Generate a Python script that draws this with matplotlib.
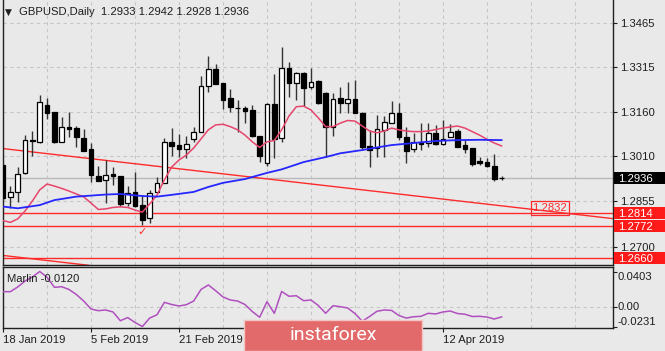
import numpy as np
import matplotlib
matplotlib.use('Agg')
import matplotlib.pyplot as plt
import matplotlib.transforms as mtransforms
from matplotlib.patches import Rectangle

plt.rcParams['font.family'] = ['Liberation Sans', 'DejaVu Sans']

# GBPUSD daily bars, 18 Jan 2019 .. 24 Apr 2019
opens = [1.2979, 1.2871, 1.2888, 1.2951, 1.3062, 1.3059, 1.3184, 1.3159, 1.3059, 1.3110,
         1.3104, 1.3070, 1.3033, 1.2942, 1.2928, 1.2948, 1.2942, 1.2850, 1.2888, 1.2842,
         1.2797, 1.2888, 1.2919, 1.3059, 1.3047, 1.3033, 1.3067, 1.3093, 1.3249, 1.3306,
         1.3258, 1.3207, 1.3173, 1.3175, 1.3166, 1.3078, 1.2985, 1.3187, 1.3070, 1.3311,
         1.3258, 1.3294, 1.3244, 1.3266, 1.3226, 1.3110, 1.3207, 1.3190, 1.3204, 1.3158,
         1.3044, 1.3036, 1.3099, 1.3124, 1.3156, 1.3076, 1.3034, 1.3057, 1.3053, 1.3089,
         1.3051, 1.3076, 1.3096, 1.3047, 1.3036, 1.2993, 1.2990, 1.2976, 1.2933]
highs = [1.2986, 1.2908, 1.2973, 1.3081, 1.3095, 1.3218, 1.3207, 1.3161, 1.3142, 1.3159,
         1.3113, 1.3101, 1.3053, 1.2976, 1.2996, 1.2973, 1.2943, 1.2907, 1.2956, 1.2877,
         1.2894, 1.2939, 1.3070, 1.3106, 1.3084, 1.3078, 1.3110, 1.3284, 1.3351, 1.3323,
         1.3259, 1.3238, 1.3201, 1.3180, 1.3184, 1.3079, 1.3190, 1.3290, 1.3381, 1.3330,
         1.3297, 1.3296, 1.3311, 1.3269, 1.3229, 1.3224, 1.3246, 1.3261, 1.3269, 1.3159,
         1.3099, 1.3150, 1.3146, 1.3197, 1.3190, 1.3110, 1.3087, 1.3121, 1.3121, 1.3116,
         1.3133, 1.3118, 1.3101, 1.3064, 1.3037, 1.3007, 1.3002, 1.3017, 1.2942]
lows = [1.2859, 1.2831, 1.2854, 1.2949, 1.3010, 1.3055, 1.3135, 1.3055, 1.3057, 1.3076,
        1.3042, 1.3026, 1.2922, 1.2923, 1.2848, 1.2911, 1.2840, 1.2840, 1.2837, 1.2774,
        1.2782, 1.2886, 1.2917, 1.3010, 1.3007, 1.3002, 1.3059, 1.3091, 1.3229, 1.3254,
        1.3169, 1.3161, 1.3093, 1.3123, 1.3076, 1.2990, 1.2976, 1.3002, 1.3059, 1.3212,
        1.3201, 1.3180, 1.3237, 1.3187, 1.3005, 1.3078, 1.3158, 1.3158, 1.3156, 1.3033,
        1.2971, 1.3007, 1.3007, 1.3122, 1.3064, 1.2987, 1.3024, 1.3030, 1.3042, 1.3047,
        1.3047, 1.3074, 1.3040, 1.3019, 1.2976, 1.2979, 1.2973, 1.2925, 1.2928]
closes = [1.2866, 1.2886, 1.2948, 1.3064, 1.3063, 1.3195, 1.3156, 1.3059, 1.3110, 1.3101,
          1.3076, 1.3028, 1.2945, 1.2925, 1.2945, 1.2941, 1.2846, 1.2884, 1.2839, 1.2791,
          1.2885, 1.2917, 1.3057, 1.3044, 1.3035, 1.3050, 1.3091, 1.3249, 1.3306, 1.3256,
          1.3201, 1.3176, 1.3172, 1.3163, 1.3078, 1.3008, 1.3187, 1.3068, 1.3311, 1.3258,
          1.3292, 1.3241, 1.3263, 1.3192, 1.3110, 1.3204, 1.3190, 1.3204, 1.3158, 1.3039,
          1.3030, 1.3101, 1.3127, 1.3156, 1.3076, 1.3028, 1.3057, 1.3051, 1.3087, 1.3051,
          1.3067, 1.3093, 1.3042, 1.3034, 1.2982, 1.2987, 1.2976, 1.2930, 1.2936]

# fast moving average (pink), one value per bar
fast_ma = [1.2789, 1.2783, 1.2795, 1.2822, 1.2856, 1.2894, 1.2914, 1.2907, 1.2899, 1.2890,
           1.2880, 1.2870, 1.2849, 1.2827, 1.2829, 1.2834, 1.2836, 1.2834, 1.2825, 1.2818,
           1.2846, 1.2876, 1.2928, 1.2972, 1.2996, 1.3013, 1.3037, 1.3068, 1.3099, 1.3116,
           1.3118, 1.3110, 1.3099, 1.3081, 1.3058, 1.3039, 1.3058, 1.3063, 1.3099, 1.3146,
           1.3178, 1.3180, 1.3167, 1.3140, 1.3110, 1.3110, 1.3122, 1.3131, 1.3129, 1.3112,
           1.3095, 1.3089, 1.3095, 1.3105, 1.3099, 1.3095, 1.3093, 1.3093, 1.3095, 1.3100,
           1.3105, 1.3109, 1.3112, 1.3105, 1.3093, 1.3081, 1.3067, 1.3054, 1.3044]

# slow moving average (blue), read at a few bars
slow_bars = [0, 2, 5, 7, 10, 14, 16, 19, 21, 23, 26, 28, 30, 33, 36, 38, 41, 44, 46, 49,
             51, 53, 56, 59, 62, 65, 68]
slow_ma = [1.2837, 1.2831, 1.2842, 1.2859, 1.2871, 1.2878, 1.2880, 1.2873, 1.2871, 1.2877,
           1.2887, 1.2904, 1.2918, 1.2931, 1.2952, 1.2964, 1.2989, 1.3006, 1.3019, 1.3030,
           1.3039, 1.3047, 1.3054, 1.3061, 1.3064, 1.3065, 1.3064]

# Marlin oscillator
marlin = [0.0171, 0.0171, 0.0225, 0.0294, 0.0340, 0.0403, 0.0337, 0.0221, 0.0228, 0.0196,
          0.0138, 0.0063, -0.0029, -0.0048, -0.0040, -0.0063, -0.0164, -0.0127, -0.0184, -0.0231,
          -0.0133, -0.0095, 0.0048, 0.0023, 0.0006, 0.0021, 0.0063, 0.0196, 0.0248, 0.0182,
          0.0110, 0.0075, 0.0063, 0.0023, -0.0058, -0.0124, 0.0055, -0.0078, 0.0173, 0.0118,
          0.0124, 0.0067, 0.0075, 0.0012, -0.0078, 0.0009, -0.0002, -0.0017, -0.0081, -0.0170,
          -0.0115, -0.0055, -0.0040, -0.0045, -0.0104, -0.0133, -0.0118, -0.0113, -0.0078, -0.0086,
          -0.0063, -0.0052, -0.0081, -0.0089, -0.0115, -0.0113, -0.0121, -0.0144, -0.0120]

price_ticks = [1.3465, 1.3315, 1.3160, 1.3010, 1.2855, 1.2700]
levels = [1.2814, 1.2772, 1.2660]
trend_upper = [(0, 1.3035), (80, 1.2805)]
trend_lower = [(0, 1.2670), (80, 1.2440)]
trend_label = (74.6, 1.2832)
signal = (19, 1.2750)
# the 11 Mar / 27 Mar labels sit under the logo in the original, so only these show
date_ticks = [0, 12, 24, 60]
date_labels = ['18 Jan 2019', '5 Feb 2019', '21 Feb 2019', '12 Apr 2019']
marlin_ticks = [0.0403, 0.0, -0.0231]

BG = '#e9e9e9'
GRID = '#c6c6c6'
RED = '#ff2b2b'
TXT = '#1e1e1e'
FS = 8.1

W, H = 665, 351
fig = plt.figure(figsize=(W / 100, H / 100), dpi=100)
fig.patch.set_facecolor(BG)

ax = fig.add_axes([2.7 / W, 1 - 265.3 / H, 610.3 / W, 265.3 / H])
axm = fig.add_axes([2.7 / W, 1 - 328.3 / H, 610.3 / W, 61.3 / H])

for a in (ax, axm):
    a.set_facecolor(BG)
    a.set_xlim(-0.05, 83.2)
    for s in a.spines.values():
        s.set_color('#202020')
        s.set_linewidth(1)
    for g in range(6, 84, 6):
        a.axvline(g, color=GRID, lw=0.8, ls=(0, (3, 3)), zorder=0)

# ---- main price panel
ax.set_ylim(1.26364, 1.35425)
ax.spines['top'].set_visible(False)
ax.set_xticks([])
ax.yaxis.tick_right()
ax.set_yticks(price_ticks)
ax.set_yticklabels([f'{p:.4f}' for p in price_ticks])
ax.tick_params(axis='y', length=3, pad=2, labelsize=FS, colors=TXT)
for p in price_ticks:
    ax.axhline(p, color=GRID, lw=0.8, ls=(0, (3, 3)), zorder=0)

x = np.arange(len(opens))
o = np.array(opens); h = np.array(highs); l = np.array(lows); c = np.array(closes)
up = c >= o
lo = np.minimum(o, c)
hh = np.abs(c - o)
ax.vlines(x, l, h, color='#333333', lw=1, zorder=3)
ax.bar(x[up], hh[up], bottom=lo[up], width=0.62, facecolor='white', edgecolor='black', lw=0.9, zorder=4)
ax.bar(x[~up], hh[~up], bottom=lo[~up], width=0.62, facecolor='black', edgecolor='black', lw=0.9, zorder=4)

ax.plot(x, fast_ma, color='#e6456c', lw=1.1, zorder=5)
ax.plot(slow_bars, slow_ma, color='#2626ff', lw=1.3, zorder=5)

ax.axhline(closes[-1], color='#b9b9b9', lw=1, zorder=1)
for lv in levels:
    ax.axhline(lv, color=RED, lw=1, zorder=2)
ax.axline(trend_upper[0], trend_upper[1], color=RED, lw=1, zorder=2)
ax.axline(trend_lower[0], trend_lower[1], color=RED, lw=1, zorder=2)

ax.text(trend_label[0], trend_label[1], f'{trend_label[1]:.4f}', color=RED, fontsize=FS,
        ha='center', va='center', zorder=6,
        bbox=dict(boxstyle='square,pad=0.18', fc='none', ec=RED, lw=0.9))
ax.text(signal[0], signal[1], '\u2713', color=RED, fontsize=8, ha='center', va='center',
        family=['DejaVu Sans'], zorder=6)

# right-axis price boxes
tr = mtransforms.blended_transform_factory(ax.transAxes, ax.transData)
ppx = (1.35425 - 1.26364) / 265.3
boxes = [(closes[-1], 'black')] + [(lv, '#ff1a1a') for lv in levels]
for val, col in boxes:
    ax.add_patch(Rectangle((1.0 + 1 / 610.3, val - 6.0 * ppx), 60 / 610.3, 12.0 * ppx,
                           transform=tr, facecolor=col, edgecolor='none', clip_on=False, zorder=7))
    ax.text(1.0 + 5 / 610.3, val, f'{val:.4f}', transform=tr, color='white', fontsize=FS,
            ha='left', va='center_baseline', clip_on=False, zorder=8)

fig.text(5 / W, 1 - 12.5 / H, '\u25bc', fontsize=6.5, color=TXT, va='center', family=['DejaVu Sans'])
fig.text(19.3 / W, 1 - 12.3 / H,
         f'GBPUSD,Daily  {opens[-1]:.4f} {highs[-1]:.4f} {lows[-1]:.4f} {closes[-1]:.4f}',
         fontsize=FS, color=TXT, va='center')

# ---- Marlin panel
axm.set_ylim(-0.0251, 0.0455)
axm.plot(x, marlin, color='#b050bf', lw=1.1, zorder=3)
axm.axhline(0, color=GRID, lw=0.8, ls=(0, (3, 3)), zorder=0)
axm.yaxis.tick_right()
axm.set_yticks(marlin_ticks)
axm.set_yticklabels([])
axm.tick_params(axis='y', length=3, colors=TXT)
trm = mtransforms.blended_transform_factory(axm.transAxes, axm.transData)
for val, va in zip(marlin_ticks, ['top', 'center', 'bottom']):
    lab = '0.00' if val == 0 else f'{val:.4f}'
    axm.text(1.0 + 5 / 610.3, val, lab, transform=trm, fontsize=FS, color=TXT,
             ha='left', va=va, clip_on=False)
axm.text(4 / 610.3, 0.8, f'Marlin {marlin[-1]:.4f}', transform=axm.transAxes,
         fontsize=FS, color=TXT, va='center', ha='left')

axm.set_xticks(date_ticks)
axm.set_xticklabels(date_labels, ha='left')
axm.tick_params(axis='x', length=3, pad=2, labelsize=FS, colors=TXT)

# ---- logo
lax = fig.add_axes([244 / W, 0, 178 / W, 31 / H])
lax.set_facecolor('#e36a6a')
lax.set_xticks([]); lax.set_yticks([])
for s in lax.spines.values():
    s.set_color('#f3c4c4')
    s.set_linewidth(1)
lax.text(0.5, 0.5, 'instaforex', color='white', fontsize=14, family=['Roboto', 'DejaVu Sans'],
         ha='center', va='center', transform=lax.transAxes)

fig.savefig('out.png', dpi=100, facecolor=BG)
